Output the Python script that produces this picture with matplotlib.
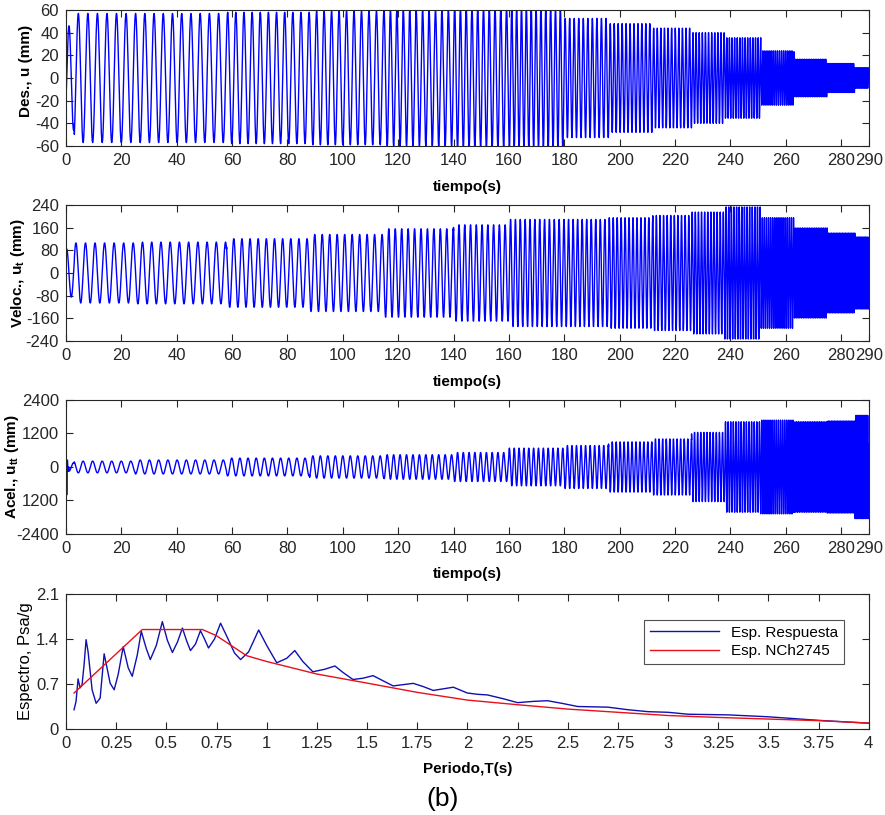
import numpy as np
import matplotlib
matplotlib.use("Agg")
import matplotlib.pyplot as plt

plt.rcParams['font.family'] = ['Liberation Sans', 'DejaVu Sans']
plt.rcParams['axes.unicode_minus'] = False
plt.rcParams['axes.edgecolor'] = '#262626'
plt.rcParams['xtick.color'] = '#262626'
plt.rcParams['ytick.color'] = '#262626'

# stage boundaries of the stepped sine test (s)
stage_edges = [0, 3, 25, 58, 88, 115, 140, 160, 180, 196, 212, 226, 238, 251, 263, 275, 285, 290]
# frequency of each stage (Hz), from cycle counts / amplitude ratios
stage_freq = [0.30, 0.29, 0.30, 0.34, 0.37, 0.43, 0.48, 0.57, 0.61, 0.70, 0.77, 0.89, 1.06, 1.33, 1.57, 1.80, 2.30]
# envelope amplitudes per stage
disp_amp = [46, 57, 57, 58, 59, 60, 62, 62, 52.6, 48, 44, 40, 35.5, 24, 16.6, 12.8, 9]
vel_amp = [85, 106, 109, 121, 136, 156, 170, 189, 189, 195, 203, 215, 233, 195, 159, 141, 127]
acc_amp = [150, 210, 250, 320, 400, 440, 520, 675, 770, 900, 1005, 1240, 1620, 1680, 1620, 1650, 1850]
# initial acceleration spike
acc_spike_t = [0.0, 0.25, 0.5, 0.75, 1.0]
acc_spike_v = [500, -1000, 250, -150, 0]

# response spectrum (blue) and NCh2745 design spectrum (red)
T_resp = [0.04, 0.05, 0.06, 0.07, 0.08, 0.09, 0.10, 0.11, 0.13, 0.15, 0.17, 0.19, 0.22, 0.24,
          0.26, 0.285, 0.31, 0.33, 0.355, 0.375, 0.40, 0.42, 0.45, 0.48, 0.505, 0.53, 0.555, 0.58,
          0.60, 0.62, 0.645, 0.67, 0.69, 0.71, 0.74, 0.77, 0.80, 0.84, 0.87, 0.91, 0.96, 1.00,
          1.05, 1.10, 1.14, 1.18, 1.23, 1.29, 1.34, 1.38, 1.43, 1.48, 1.53, 1.58, 1.63, 1.68,
          1.73, 1.78, 1.83, 1.93, 2.00, 2.05, 2.10, 2.18, 2.25, 2.33, 2.40, 2.47, 2.55, 2.70,
          2.80, 2.90, 3.00, 3.10, 3.30, 3.50, 3.75, 4.00]
Sa_resp = [0.30, 0.43, 0.78, 0.64, 0.69, 1.00, 1.39, 1.20, 0.61, 0.40, 0.48, 1.17, 0.71, 0.61,
           0.85, 1.28, 0.95, 0.82, 1.15, 1.52, 1.25, 1.08, 1.30, 1.67, 1.38, 1.19, 1.35, 1.57,
           1.38, 1.22, 1.32, 1.53, 1.40, 1.26, 1.40, 1.645, 1.45, 1.18, 1.08, 1.20, 1.54, 1.30,
           1.03, 1.10, 1.22, 1.05, 0.89, 0.93, 0.98, 0.88, 0.77, 0.79, 0.83, 0.75, 0.67, 0.69,
           0.71, 0.66, 0.60, 0.65, 0.56, 0.54, 0.53, 0.47, 0.41, 0.43, 0.44, 0.40, 0.35, 0.34,
           0.30, 0.27, 0.26, 0.23, 0.22, 0.19, 0.135, 0.09]
T_norm = [0.04, 0.38, 0.68, 0.75, 0.90, 1.00, 1.25, 1.50, 1.75, 2.00, 2.25, 2.50, 2.75, 3.00,
          3.25, 3.50, 3.75, 4.00]
Sa_norm = [0.56, 1.547, 1.547, 1.45, 1.14, 1.05, 0.855, 0.714, 0.57, 0.45, 0.378, 0.31, 0.26,
           0.21, 0.18, 0.155, 0.13, 0.093]

time_ticks = [0, 20, 40, 60, 80, 100, 120, 140, 160, 180, 200, 220, 240, 260, 280, 290]

# build the time histories stage by stage
dt = 0.01
t = np.arange(0, 290 + dt, dt)
idx = np.clip(np.searchsorted(stage_edges, t, side='right') - 1, 0, len(stage_freq) - 1)
f = np.array(stage_freq)[idx]
phase = -0.45 + np.cumsum(2 * np.pi * f * dt)
u = np.array(disp_amp)[idx] * np.sin(phase)
v = np.array(vel_amp)[idx] * np.cos(phase)
a = -np.array(acc_amp)[idx] * np.sin(phase)
keep = t > acc_spike_t[-1]
t_a = np.concatenate([acc_spike_t, t[keep]])
a = np.concatenate([acc_spike_v, a[keep]])

fig = plt.figure(figsize=(8.85, 8.15), dpi=100)
L, W = 0.0746, 0.907
ax1 = fig.add_axes([L, 0.8209, W, 0.1668])
ax2 = fig.add_axes([L, 0.5816, W, 0.1669])
ax3 = fig.add_axes([L, 0.3448, W, 0.1644])
ax4 = fig.add_axes([L, 0.1055, W, 0.1657])


def style(ax):
    ax.tick_params(direction='in', top=True, right=True, length=5, labelsize=12, pad=5)
    for s in ax.spines.values():
        s.set_linewidth(0.8)


ax1.plot(t, u, color='b', lw=1.0)
ax1.set_xlim(0, 290)
ax1.set_ylim(-60, 60)
ax1.set_yticks(np.arange(-60, 61, 20))
ax1.set_ylabel('Des., u (mm)', fontweight='bold', fontsize=11)
ax1.yaxis.set_label_coords(-0.041, 0.55)

ax2.plot(t, v, color='b', lw=1.0)
ax2.set_xlim(0, 290)
ax2.set_ylim(-240, 240)
ax2.set_yticks(np.arange(-240, 241, 80))
ax2.set_ylabel(r'Veloc., u$_\mathregular{t}$ (mm)', fontweight='bold', fontsize=11)
ax2.yaxis.set_label_coords(-0.049, 0.5)

ax3.plot(t_a, a, color='b', lw=1.0)
ax3.set_xlim(0, 290)
ax3.set_ylim(-2400, 2400)
ax3.set_yticks([-2400, -1200, 0, 1200, 2400])
ax3.set_yticklabels(['-2400', '1200', '0', '1200', '2400'])
ax3.set_ylabel(r'Acel., u$_\mathregular{tt}$ (mm)', fontweight='bold', fontsize=11)
ax3.yaxis.set_label_coords(-0.056, 0.5)

for ax in (ax1, ax2, ax3):
    ax.set_xticks(time_ticks)
    ax.set_xlabel('tiempo(s)', fontweight='bold', fontsize=11)
    ax.xaxis.set_label_coords(0.5, -0.25)
    style(ax)

ax4.plot(T_resp, Sa_resp, color='#1010b0', lw=1.0, label='Esp. Respuesta')
ax4.plot(T_norm, Sa_norm, color='#e8101a', lw=1.0, label='Esp. NCh2745')
ax4.set_xlim(0, 4)
ax4.set_ylim(0, 2.1)
ax4.set_xticks(np.arange(0, 4.01, 0.25))
ax4.set_xticklabels(['0', '0.25', '0.5', '0.75', '1', '1.25', '1.5', '1.75', '2', '2.25',
                     '2.5', '2.75', '3', '3.25', '3.5', '3.75', '4'])
ax4.set_yticks([0, 0.7, 1.4, 2.1])
ax4.set_yticklabels(['0', '0.7', '1.4', '2.1'])
ax4.set_ylabel('Espectro, Psa/g', fontsize=12)
ax4.yaxis.set_label_coords(-0.041, 0.5)
ax4.set_xlabel('Periodo,T(s)', fontweight='bold', fontsize=11)
ax4.xaxis.set_label_coords(0.5, -0.244)
style(ax4)
leg = ax4.legend(loc='upper right', bbox_to_anchor=(0.979, 0.867), fontsize=11, frameon=True,
                 fancybox=False, edgecolor='#262626', handlelength=4.5, borderpad=0.4,
                 labelspacing=0.3)
leg.get_frame().set_linewidth(0.8)

fig.text(0.5, 0.02, '(b)', ha='center', va='center', fontsize=19)

fig.savefig('out.png', dpi=100)
